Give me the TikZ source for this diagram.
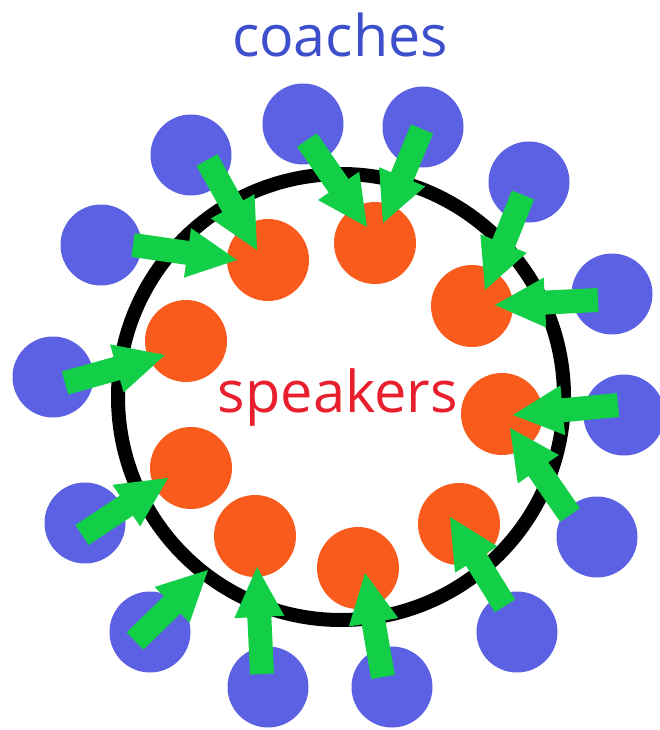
\documentclass[tikz,border=0pt]{standalone}
\usepackage{fontspec}
\setmainfont{Open Sans}
\usetikzlibrary{calc}
\definecolor{coachblue}{RGB}{91,97,226}
\definecolor{speakorange}{RGB}{248,91,28}
\definecolor{arrowgreen}{RGB}{18,207,71}
\definecolor{titleblue}{RGB}{62,79,203}
\definecolor{titlered}{RGB}{232,32,46}
\tikzset{
  coach/.style={circle,fill=coachblue,minimum size=81pt,inner sep=0pt},
  speaker/.style={circle,fill=speakorange,minimum size=82pt,inner sep=0pt},
  ring/.style={draw=black,line width=14pt},
  garrowstyle/.style={fill=arrowgreen}
}
% green block arrow from named coordinate #1 (tail) to #2 (tip)
\newcommand\garrow[2]{%
  \fill[garrowstyle]
    ($(#1)!12pt!90:(#2)$) --
    ($($(#2)!50pt!(#1)$)!12pt!-90:(#1)$) --
    ($($(#2)!50pt!(#1)$)!25pt!-90:(#1)$) --
    (#2) --
    ($($(#2)!50pt!(#1)$)!25pt!90:(#1)$) --
    ($($(#2)!50pt!(#1)$)!12pt!90:(#1)$) --
    ($(#1)!12pt!-90:(#2)$) -- cycle;}
\begin{document}
\begin{tikzpicture}[x=1pt,y=-1pt]
\useasboundingbox (0,0) rectangle (659,730);
% ring
\node[circle,minimum size=1pt,inner sep=0pt] (ctr) at (341,397) {};
\draw[ring] (ctr.center) circle[radius=223];
% coaches
\node[coach] (b1) at (101,245) {};
\node[coach] (b2) at (191,155) {};
\node[coach] (b3) at (303,124) {};
\node[coach] (b4) at (423,127) {};
\node[coach] (b5) at (529,182) {};
\node[coach] (b6) at (612,294) {};
\node[coach] (b7) at (624,415) {};
\node[coach] (b8) at (597,537) {};
\node[coach] (b9) at (517,632) {};
\node[coach] (b10) at (392,687) {};
\node[coach] (b11) at (268,687) {};
\node[coach] (b12) at (150,632) {};
\node[coach] (b13) at (85,523) {};
\node[coach] (b14) at (53,377) {};
% speakers
\node[speaker] (o1) at (268,260) {};
\node[speaker] (o2) at (375,243) {};
\node[speaker] (o3) at (472,306) {};
\node[speaker] (o4) at (502,414) {};
\node[speaker] (o5) at (459,524) {};
\node[speaker] (o6) at (358,568) {};
\node[speaker] (o7) at (255,536) {};
\node[speaker] (o8) at (191,468) {};
\node[speaker] (o9) at (186,341) {};
% labels
\node[text=titleblue,anchor=base,inner sep=0pt] (tcoach) at (340,57) {\resizebox{216pt}{!}{coaches}};
\node[text=titlered,anchor=base,inner sep=0pt] (tspeak) at (338,412) {\resizebox{240pt}{!}{speakers}};
% arrow end points
\coordinate (t1) at (133,245); \coordinate (p1) at (237,260);
\coordinate (t2) at (207,160); \coordinate (p2) at (257,250);
\coordinate (t3) at (307,140); \coordinate (p3) at (367,227);
\coordinate (t4) at (422,129); \coordinate (p4) at (383,223);
\coordinate (t5) at (523,195); \coordinate (p5) at (485,290);
\coordinate (t6) at (598,300); \coordinate (p6) at (495,305);
\coordinate (t7) at (618,405); \coordinate (p7) at (513,415);
\coordinate (t8) at (570,515); \coordinate (p8) at (510,428);
\coordinate (t9) at (505,606); \coordinate (p9) at (450,517);
\coordinate (t10) at (383,677); \coordinate (p10) at (365,573);
\coordinate (t11) at (262,674); \coordinate (p11) at (257,567);
\coordinate (t12) at (135,641); \coordinate (p12) at (208,570);
\coordinate (t13) at (82,535); \coordinate (p13) at (168,478);
\coordinate (t14) at (65,383); \coordinate (p14) at (165,355);
\foreach \i in {1,...,14} {\garrow{t\i}{p\i}}
\end{tikzpicture}
\end{document}
